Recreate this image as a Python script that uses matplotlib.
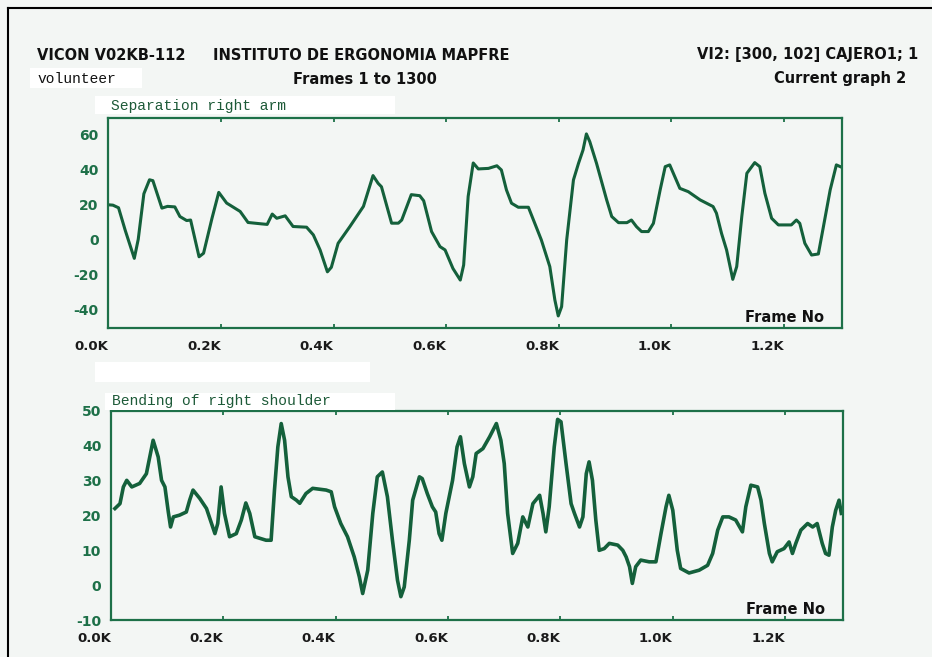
import matplotlib
matplotlib.use("Agg")
import matplotlib.pyplot as plt
from matplotlib.patches import Rectangle
from matplotlib.lines import Line2D

# Separation right arm (frame, degrees)
top_frames = [0, 8, 18, 30, 46, 53, 63, 73, 79, 95, 105, 118, 127, 139, 146, 161, 169, 184,
              196, 210, 234, 248, 272, 282, 291, 299, 314, 328, 352, 364, 376, 389, 396, 408,
              429, 453, 470, 479, 485, 503, 515, 521, 538, 553, 560, 574, 589, 598, 612, 625,
              631, 639, 648, 657, 675, 690, 698, 707, 716, 728, 746, 755, 769, 784, 793, 799,
              805, 814, 826, 835, 843, 849, 855, 867, 885, 894, 906, 921, 929, 938, 947, 959,
              968, 980, 989, 997, 1006, 1015, 1030, 1051, 1074, 1080, 1089, 1098, 1109, 1116,
              1125, 1134, 1148, 1157, 1166, 1178, 1190, 1213, 1222, 1228, 1237, 1249, 1261,
              1270, 1282, 1293, 1300]
top_values = [19.7, 19.5, 18, 5, -10.9, 0, 26, 34, 33.5, 17.8, 18.8, 18.5, 13, 10.7, 11, -10, -8, 12,
              26.8, 20.7, 15.9, 9.6, 8.8, 8.5, 14.4, 12, 13.4, 7.3, 6.9, 2.5, -6.1, -18.6, -16, -2.3,
              7.3, 18.8, 36.4, 32, 30, 9.2, 9.2, 11, 25.5, 24.9, 22, 4.4, -4.2, -6.1, -16.7, -23.3,
              -14.7, 24.5, 43.6, 40.2, 40.5, 42, 39.6, 28.2, 20.6, 18.3, 18.3, 11, -0.4, -15.6, -34.7, -43.8,
              -38.5, -0.4, 33.9, 43.4, 51, 60.2, 55.8, 43.4, 22.5, 13, 9.5, 9.5, 11, 7.2, 4.4, 4.4,
              9.1, 28.2, 41.5, 42.5, 35.8, 29.1, 27.2, 22.5, 18.7, 14.9, 3.4, -6.1, -22.9, -15.6,
              13, 37.7, 43.8, 41.5, 26.3, 12, 8.2, 8.2, 11, 9.1, -2.3, -9, -8.4,
              7.2, 28.2, 42.5, 41.5]

# Bending of right shoulder (frame, degrees)
bottom_frames = [7, 16, 22, 28, 37, 51, 63, 75, 84, 90, 96, 102, 106, 111, 122, 134, 140, 146, 158,
                 170, 179, 185, 190, 196, 202, 211, 223, 232, 240, 247, 256, 276, 285, 291, 297, 303,
                 309, 315, 321, 330, 336, 347, 359, 383, 392, 398, 409, 421, 433, 442, 448, 457, 466,
                 474, 483, 492, 501, 510, 516, 522, 531, 537, 549, 554, 563, 572, 578, 584, 589, 596,
                 608, 616, 622, 629, 638, 644, 650, 662, 674, 686, 694, 700, 706, 715, 724, 733, 742,
                 751, 763, 769, 774, 780, 789, 795, 801, 810, 819, 825, 834, 840, 846, 851, 857, 863,
                 869, 878, 887, 902, 911, 917, 923, 928, 934, 943, 958, 970, 979, 988, 993, 1000, 1008,
                 1014, 1029, 1047, 1062, 1071, 1080, 1089, 1100, 1112, 1124, 1130, 1139, 1151, 1157,
                 1163, 1172, 1177, 1186, 1198, 1207, 1213, 1219, 1228, 1240, 1249, 1257, 1266, 1272,
                 1278, 1284, 1290, 1296, 1300]
bottom_values = [22, 23.4, 28.2, 30.1, 28.2, 29.2, 32, 41.6, 36.8, 30.1, 28.2, 21, 16.7, 19.6, 20.1, 21, 24.4, 27.3, 24.9,
                 22, 17.7, 14.8, 17.7, 28.2, 20.6, 13.9, 14.8, 18.7, 23.6, 20.6, 13.9, 12.9, 12.9, 27.3, 39.7, 46.4,
                 41.6, 31.1, 25.4, 24.4, 23.5, 26.3, 27.8, 27.3, 26.8, 22.5, 17.7, 13.9, 8.1, 2.4, -2.4, 4.3, 20.6,
                 31.1, 32.5, 25.4, 12.9, 1.4, -3.3, -0.5, 12.9, 24.4, 31.1, 30.6, 26.3, 22.5, 21, 14.8, 12.9, 20.6,
                 30.1, 39.7, 42.6, 34.9, 28.2, 31.1, 37.8, 39.2, 42.6, 46.4, 41.6, 34.9, 20.6, 9.1, 12, 19.6, 16.7,
                 23.4, 25.8, 20.6, 15.3, 22.5, 39.7, 47.6, 46.9, 34.9, 23.4, 20.6, 16.7, 19.6, 32, 35.4, 30.1, 18.7,
                 10, 10.5, 12, 11.5, 10, 8.1, 5.3, 0.5, 5.3, 7.2, 6.7, 6.7, 14.8, 22.5, 25.8, 21.5, 10,
                 4.8, 3.5, 4.3, 5.7, 9.1, 15.8, 19.6, 19.6, 18.7, 15.3, 22.5, 28.7, 28.2, 24.4,
                 17.7, 9.1, 6.7, 9.6, 10.5, 12.4, 9.1, 12, 15.8, 17.7, 16.7, 17.7, 12, 9.1,
                 8.6, 16.7, 21.5, 24.4, 20.6]

x_ticks = [0, 200, 400, 600, 800, 1000, 1200]
x_labels = ["0.0K", "0.2K", "0.4K", "0.6K", "0.8K", "1.0K", "1.2K"]
top_yticks = [60, 40, 20, 0, -20, -40]
bottom_ylabels = [50, 40, 30, 20, 10, 0, -10]
bottom_yticks = [40, 30, 20, 10, 0]

W, H = 932, 657
BG = "#f3f6f4"
GREEN = "#1d7048"
LINE = "#14603b"
LABEL_FONT = "DejaVu Sans"


def fx(px):
    return px / W


def fy(py):
    return 1 - py / H


def style_axes(ax, ylim, ylabels, yticks):
    ax.set_facecolor(BG)
    ax.set_xlim(0, 1303)
    ax.set_ylim(*ylim)
    for s in ax.spines.values():
        s.set_color(GREEN)
        s.set_linewidth(1.6)
    ax.set_xticks(x_ticks)
    ax.set_xticklabels(x_labels)
    ax.tick_params(axis="x", which="major", direction="in", top=True, bottom=True,
                   length=3, width=1.3, color=GREEN, pad=9,
                   labelsize=9.5, labelcolor="#1a1a1a")
    for lab in ax.get_xticklabels():
        lab.set_ha("right")
        lab.set_fontweight("bold")
    ax.set_yticks(ylabels)
    ax.set_yticklabels([str(v) for v in ylabels])
    ax.set_yticks(yticks, minor=True)
    ax.tick_params(axis="y", which="major", length=0, pad=7, labelsize=10,
                   labelcolor=GREEN)
    ax.tick_params(axis="y", which="minor", direction="in", left=True, right=True,
                   length=11, width=1.5, color=GREEN)
    for lab in ax.get_yticklabels():
        lab.set_fontweight("bold")
    ax.text(0.975, 0.012, "Frame No", transform=ax.transAxes, ha="right", va="bottom",
            fontsize=10.5, fontweight="bold", color="#111111", family=LABEL_FONT)


fig = plt.figure(figsize=(W / 100, H / 100), dpi=100)
fig.patch.set_facecolor(BG)

# pasted-over white patches of the scan
for (x0, y0, w, h) in [(30, 68, 112, 20), (95, 96, 300, 18), (95, 362, 275, 20), (105, 393, 290, 17)]:
    fig.patches.append(Rectangle((fx(x0), fy(y0 + h)), w / W, h / H, transform=fig.transFigure,
                                 facecolor="white", edgecolor="none", zorder=0))

# scan border (left and top only)
fig.lines.append(Line2D([fx(8), fx(8)], [fy(8), 0], transform=fig.transFigure, color="black", lw=1.5))
fig.lines.append(Line2D([fx(8), 1], [fy(8), fy(8)], transform=fig.transFigure, color="black", lw=1.5))

ax1 = fig.add_axes([fx(108.4), fy(328), (842 - 108.4) / W, (328 - 118) / H])
ax1.plot(top_frames, top_values, color=LINE, lw=2.2, solid_joinstyle="round")
style_axes(ax1, (-50.7, 69.3), top_yticks, top_yticks)

ax2 = fig.add_axes([fx(111), fy(620), (843 - 111) / W, (620 - 411) / H])
ax2.plot(bottom_frames, bottom_values, color=LINE, lw=2.6, solid_joinstyle="round")
style_axes(ax2, (-10, 50), bottom_ylabels, bottom_yticks)

hdr = dict(fontsize=10.5, fontweight="bold", color="#111111", family=LABEL_FONT, va="center")
fig.text(fx(37), fy(55), "VICON V02KB-112", ha="left", **hdr)
fig.text(fx(213), fy(55), "INSTITUTO DE ERGONOMIA MAPFRE", ha="left", **hdr)
fig.text(fx(918), fy(55), "VI2: [300, 102] CAJERO1; 1", ha="right", **hdr)
fig.text(fx(365), fy(79), "Frames 1 to 1300", ha="center", **hdr)
fig.text(fx(906), fy(79), "Current graph 2", ha="right", **hdr)

mono = dict(family="Liberation Mono", fontsize=10.5, va="center", ha="left")
fig.text(fx(37), fy(79), "volunteer", color="#111111", **mono)
fig.text(fx(111), fy(106), "Separation right arm", color="#1d5a38", **mono)
fig.text(fx(112), fy(401), "Bending of right shoulder", color="#1d5a38", **mono)

fig.savefig("out.png", dpi=100, facecolor=BG)
